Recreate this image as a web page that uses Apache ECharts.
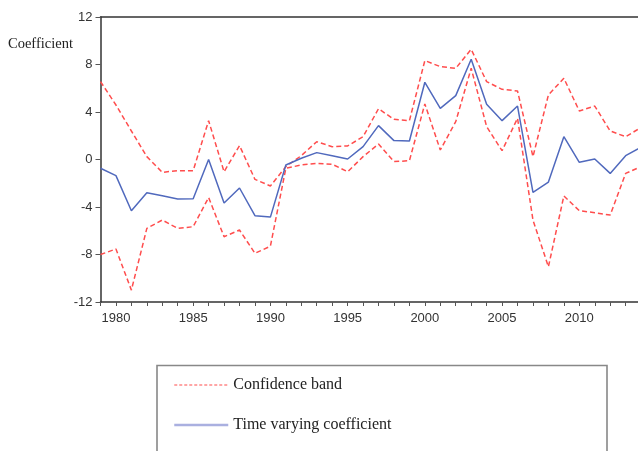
<!DOCTYPE html>
<html><head><meta charset="utf-8">
<script src="https://cdn.jsdelivr.net/npm/echarts@6/dist/echarts.min.js"></script>
<style>html,body{margin:0;padding:0;background:#fff}#c{width:638px;height:451px}</style>
</head><body><div id="c"></div>
<script>
const years = [1979,1980,1981,1982,1983,1984,1985,1986,1987,1988,1989,1990,1991,1992,1993,1994,1995,1996,1997,1998,1999,2000,2001,2002,2003,2004,2005,2006,2007,2008,2009,2010,2011,2012,2013,2014];
const coefficient = [-0.74,-1.36,-4.31,-2.8,-3.05,-3.33,-3.3,0.0,-3.67,-2.4,-4.73,-4.85,-0.46,0.1,0.58,0.32,0.04,1.08,2.85,1.59,1.56,6.5,4.31,5.38,8.44,4.65,3.27,4.5,-2.77,-1.9,1.92,-0.24,0.04,-1.17,0.32,1.05];
const upperBand = [6.56,4.59,2.4,0.24,-1.08,-0.94,-0.94,3.27,-1.03,1.17,-1.67,-2.23,-0.6,0.32,1.5,1.08,1.14,1.92,4.28,3.38,3.27,8.33,7.82,7.68,9.28,6.56,5.91,5.77,0.24,5.44,6.84,4.09,4.5,2.4,1.92,2.7];
const lowerBand = [-8.0,-7.54,-11.0,-5.8,-5.1,-5.8,-5.66,-3.2,-6.5,-5.94,-7.9,-7.3,-0.74,-0.46,-0.32,-0.4,-1.03,0.24,1.3,-0.18,-0.1,4.68,0.8,3.19,7.68,2.77,0.74,3.47,-5.1,-9.03,-3.07,-4.31,-4.48,-4.68,-1.17,-0.6];
const yTicks = [-12,-8,-4,0,4,8,12];
const yAxisTitle = 'Coefficient';
const bandName = 'Confidence band';
const coefName = 'Time varying coefficient';

const pair = arr => years.map((y,i)=>[y,arr[i]]);
const chart = echarts.init(document.getElementById('c'), null, {renderer:'canvas'});
const red = '#ff4d4d', blue = '#5069bd';
chart.setOption({
  animation:false,
  grid:{left:100.5, top:17, right:0, bottom:149, show:false},
  xAxis:[{type:'value', min:1979, max:2013.8, interval:1,
    axisLine:{show:true, onZero:false, lineStyle:{color:'#333', width:1.5}},
    axisTick:{show:true, inside:false, length:4, lineStyle:{color:'#555'}},
    axisLabel:{margin:10, color:'#333', fontFamily:'Liberation Sans, Arial', fontSize:13, showMaxLabel:false,
      formatter:v=> (v%5===0 ? String(v) : '')},
    splitLine:{show:false}},
    {type:'value', position:'top', min:1979, max:2013.8,
    axisLine:{show:true, onZero:false, lineStyle:{color:'#333', width:1.5}},
    axisTick:{show:false}, axisLabel:{show:false}, splitLine:{show:false}}],
  yAxis:{type:'value', min:yTicks[0], max:yTicks[yTicks.length-1], interval:4,
    axisLine:{show:true, onZero:false, lineStyle:{color:'#333', width:1.5}},
    axisTick:{show:true, length:5, lineStyle:{color:'#555'}},
    axisLabel:{margin:8, color:'#333', fontFamily:'Liberation Sans, Arial', fontSize:13},
    splitLine:{show:false}},
  legend:{show:true, orient:'vertical', left:168, top:372, itemGap:24, itemWidth:54, itemHeight:10,
    textStyle:{fontFamily:'Liberation Serif, Times New Roman', fontSize:16, color:'#222'},
    data:[
      {name:bandName, itemStyle:{opacity:0}, lineStyle:{color:red, type:[3,2], width:1.2}},
      {name:coefName, itemStyle:{opacity:0}, lineStyle:{color:'#aab0e0', width:2.5}}
    ]},
  graphic:[
    {type:'text', left:8, top:37, style:{text:yAxisTitle, font:'14.5px "Liberation Serif", "Times New Roman"', fill:'#222'}},
    {type:'rect', shape:{x:157, y:365.5, width:450, height:100}, style:{fill:'none', stroke:'#888', lineWidth:1.6}, z:-1}
  ],
  series:[
    {name:bandName, type:'line', data:pair(upperBand), symbol:'none', lineStyle:{color:red, type:[5,3], width:1.5}, itemStyle:{color:red}},
    {name:bandName, type:'line', data:pair(lowerBand), symbol:'none', lineStyle:{color:red, type:[5,3], width:1.5}, itemStyle:{color:red}},
    {name:coefName, type:'line', data:pair(coefficient), symbol:'none', lineStyle:{color:blue, width:1.5}, itemStyle:{color:blue}}
  ]
});
</script></body></html>
